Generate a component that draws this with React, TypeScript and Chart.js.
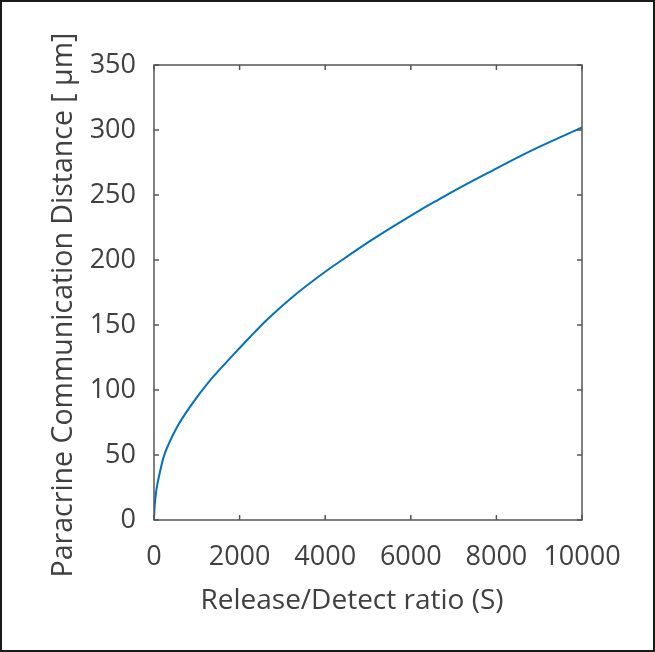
import React, { useEffect, useRef } from "react";
import { Chart, registerables } from "chart.js";

Chart.register(...registerables);

const xValues = [0, 10, 30, 60, 120, 220, 350, 530, 840, 1300, 1850, 2250, 2670, 3250, 4000, 4350, 5000, 5600, 6200, 6650, 7000, 7800, 8500, 9000, 10000];
const yValues = [0, 8, 16, 24, 34, 48, 59, 71, 87, 107, 127, 141, 155, 172, 191, 199, 213.5, 226, 238, 246.5, 253, 267, 279, 287, 302];

const xTitle = "Release/Detect ratio (S)";
const yTitle = "Paracrine Communication Distance [ μm]";

const FONT = "'Open Sans', 'Noto Sans', sans-serif";
const TEXT = "#404040";
const AXIS = "#555555";

const boxPlugin = {
  id: "matlabBox",
  afterDraw(chart: any) {
    const { ctx, chartArea: a } = chart;
    const xs = chart.scales.x;
    const ys = chart.scales.y;
    ctx.save();
    ctx.strokeStyle = AXIS;
    ctx.lineWidth = 1.5;
    ctx.strokeRect(a.left, a.top, a.right - a.left, a.bottom - a.top);
    const tl = 5;
    ctx.beginPath();
    xs.ticks.forEach((t: any) => {
      const px = xs.getPixelForValue(t.value);
      ctx.moveTo(px, a.bottom);
      ctx.lineTo(px, a.bottom - tl);
      ctx.moveTo(px, a.top);
      ctx.lineTo(px, a.top + tl);
    });
    ys.ticks.forEach((t: any) => {
      const py = ys.getPixelForValue(t.value);
      ctx.moveTo(a.left, py);
      ctx.lineTo(a.left + tl, py);
      ctx.moveTo(a.right, py);
      ctx.lineTo(a.right - tl, py);
    });
    ctx.stroke();

    // axis titles (placed like the MATLAB original)
    ctx.fillStyle = TEXT;
    ctx.textAlign = "center";
    ctx.textBaseline = "alphabetic";
    ctx.font = `28px ${FONT}`;
    ctx.fillText(xTitle, a.left + 198, a.bottom + 89);
    ctx.translate(70, a.top + 240);
    ctx.rotate(-Math.PI / 2);
    ctx.font = `28.5px ${FONT}`;
    ctx.fillText(yTitle, 0, 0);
    ctx.restore();
  },
};

export default function App() {
  const ref = useRef<HTMLCanvasElement>(null);
  useEffect(() => {
    if (!ref.current) return;
    const chart = new Chart(ref.current, {
      type: "line",
      data: {
        datasets: [
          {
            data: xValues.map((x, i) => ({ x, y: yValues[i] })),
            borderColor: "#0072BD",
            borderWidth: 2,
            pointRadius: 0,
            cubicInterpolationMode: "monotone",
            fill: false,
          },
        ],
      },
      options: {
        responsive: false,
        animation: false,
        devicePixelRatio: 1,
        layout: { padding: { top: 63, right: 71, left: 0, bottom: 0 } },
        plugins: { legend: { display: false }, tooltip: { enabled: false } },
        scales: {
          x: {
            type: "linear",
            min: 0,
            max: 10000,
            grid: { display: false, drawTicks: false },
            border: { display: false },
            ticks: {
              stepSize: 2000,
              padding: 21,
              color: TEXT,
              font: { family: FONT, size: 27 },
              maxRotation: 0,
              autoSkip: false,
              callback: (v: any) => String(v),
            },
            title: { display: false, text: xTitle },
            afterFit(scale: any) {
              scale.height = 130;
            },
          },
          y: {
            min: 0,
            max: 350,
            grid: { display: false, drawTicks: false },
            border: { display: false },
            ticks: {
              stepSize: 50,
              padding: 18,
              color: TEXT,
              font: { family: FONT, size: 27 },
              autoSkip: false,
              callback: (v: any) => String(v),
            },
            title: { display: false, text: yTitle },
            afterFit(scale: any) {
              scale.width = 152;
            },
          },
        },
      },
      plugins: [boxPlugin],
    } as any);
    return () => chart.destroy();
  }, []);

  return (
    <div
      style={{
        position: "fixed",
        left: 0,
        top: 0,
        width: 655,
        height: 652,
        boxSizing: "border-box",
        border: "2px solid #1a1a1a",
        background: "#ffffff",
      }}
    >
      <canvas ref={ref} width={651} height={648} style={{ display: "block", width: 651, height: 648 }} />
    </div>
  );
}
